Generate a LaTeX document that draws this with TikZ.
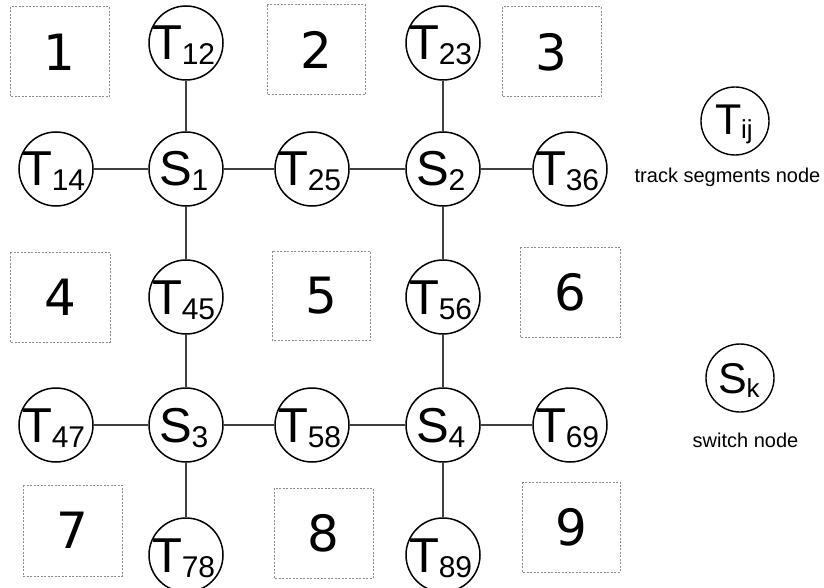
\documentclass[tikz,border=0pt]{standalone}
\usepackage{fontspec}
\setmainfont{Liberation Sans}
\newfontfamily\digitfont{DejaVu Sans}
\newcommand\nlab[3]{\makebox[0pt]{\hspace*{-4pt}\raisebox{#3}[0pt][0pt]{\fontsize{49}{49}\selectfont #1\kern-1pt\fontsize{30}{30}\selectfont\raisebox{-5pt}{#2}}}}
\newcommand\leglab[3]{\makebox[0pt]{\hspace*{-2pt}\raisebox{#3}[0pt][0pt]{\fontsize{43}{43}\selectfont #1\kern-0.5pt\fontsize{26}{26}\selectfont\raisebox{-4pt}{#2}}}}
\tikzset{
  circ/.style={circle, draw=black, line width=1.5pt, minimum size=74pt, inner sep=0pt, fill=white},
  legcirc/.style={circle, draw=black, line width=1.4pt, minimum size=68pt, inner sep=0pt},
  link/.style={draw=black!75, line width=1.5pt},
  area/.style={draw=black!45, line width=1pt, dash pattern=on 2pt off 1.5pt},
  areanum/.style={font=\digitfont\fontsize{50}{50}\selectfont},
  legtext/.style={font=\fontsize{20}{20}\selectfont, inner sep=0pt}
}
\begin{document}
\begin{tikzpicture}[x=1pt,y=-1pt]
\useasboundingbox (0,0) rectangle (824,588);
% areas
\foreach \n/\xa/\ya/\xb/\yb in {1/10/7/109/97, 2/267/5/365/95, 3/502/7/601/97,
  4/10/252/110/342, 5/272/251/370/340, 6/520/247/620/337,
  7/23/485/122/576, 8/274/488/373/578, 9/522/482/620/572}{
  \draw[area] (\xa,\ya) rectangle (\xb,\yb);
  \node[areanum] (a\n) at ({(\xa+\xb)/2},{(\ya+\yb)/2}) {\n};
}
% nodes
\node[circ] (T12) at (186,43) {\nlab{T}{12}{-17pt}};
\node[circ] (T23) at (443,43) {\nlab{T}{23}{-17pt}};
\node[circ] (T14) at (56,169) {\nlab{T}{14}{-17pt}};
\node[circ] (S1) at (186,169) {\nlab{S}{1}{-17pt}};
\node[circ] (T25) at (312,169) {\nlab{T}{25}{-17pt}};
\node[circ] (S2) at (443,169) {\nlab{S}{2}{-17pt}};
\node[circ] (T36) at (570,169) {\nlab{T}{36}{-17pt}};
\node[circ] (T45) at (186,297) {\nlab{T}{45}{-17pt}};
\node[circ] (T56) at (443,297) {\nlab{T}{56}{-17pt}};
\node[circ] (T47) at (56,425) {\nlab{T}{47}{-17pt}};
\node[circ] (S3) at (186,425) {\nlab{S}{3}{-17pt}};
\node[circ] (T58) at (312,425) {\nlab{T}{58}{-17pt}};
\node[circ] (S4) at (443,425) {\nlab{S}{4}{-17pt}};
\node[circ] (T69) at (570,425) {\nlab{T}{69}{-17pt}};
\node[circ] (T78) at (186,555) {\nlab{T}{78}{-17pt}};
\node[circ] (T89) at (443,555) {\nlab{T}{89}{-17pt}};
% links
\draw[link] (T12) -- (S1);
\draw[link] (T14) -- (S1);
\draw[link] (S1) -- (T25);
\draw[link] (T25) -- (S2);
\draw[link] (T23) -- (S2);
\draw[link] (S2) -- (T36);
\draw[link] (S1) -- (T45);
\draw[link] (S2) -- (T56);
\draw[link] (T45) -- (S3);
\draw[link] (T56) -- (S4);
\draw[link] (T47) -- (S3);
\draw[link] (S3) -- (T58);
\draw[link] (T58) -- (S4);
\draw[link] (S4) -- (T69);
\draw[link] (S3) -- (T78);
\draw[link] (S4) -- (T89);
% legend
\node[legcirc] (LT) at (735,121) {\leglab{T}{ij}{-14pt}};
\node[legtext] (LTt) at (727.5,177) {track segments node};
\node[legcirc] (LS) at (740,378) {\leglab{S}{k}{-15pt}};
\node[legtext] (LSt) at (745.5,440) {switch node};
\end{tikzpicture}
\end{document}
